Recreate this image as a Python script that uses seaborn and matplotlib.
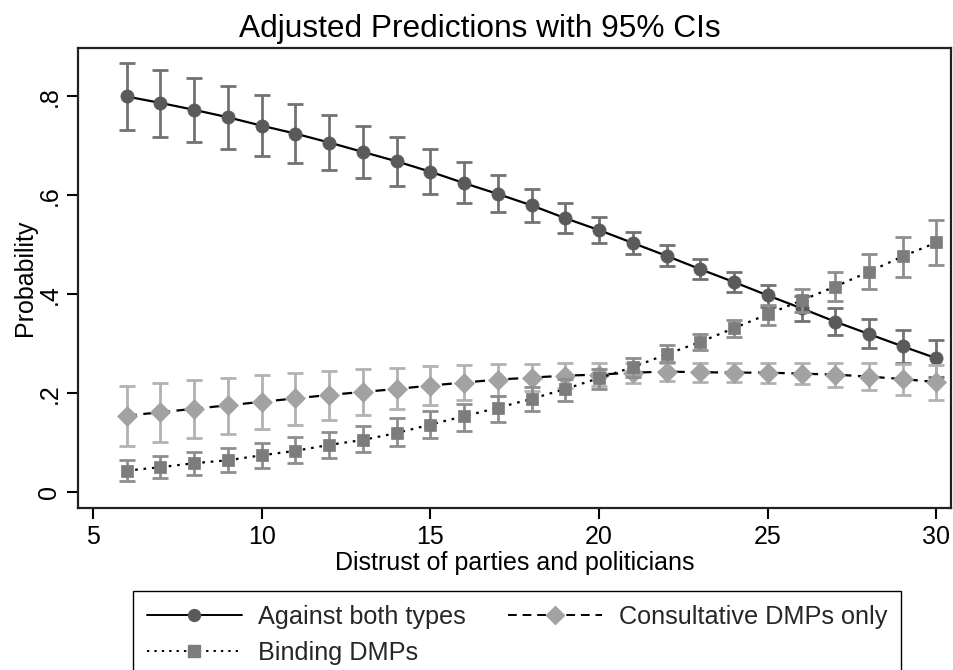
import matplotlib
matplotlib.use("Agg")
import matplotlib.pyplot as plt
from matplotlib.lines import Line2D
import seaborn as sns
import numpy as np

# ---- data ----
distrust = list(range(6, 31))

against = [0.800, 0.787, 0.773, 0.758, 0.741, 0.725, 0.707, 0.688, 0.669, 0.648, 0.625, 0.603, 0.580,
           0.554, 0.530, 0.504, 0.478, 0.451, 0.425, 0.398, 0.372, 0.345, 0.320, 0.295, 0.271]
against_lo = [0.733, 0.719, 0.708, 0.694, 0.680, 0.665, 0.651, 0.636, 0.620, 0.602, 0.585, 0.566, 0.546,
              0.525, 0.504, 0.482, 0.457, 0.431, 0.405, 0.375, 0.347, 0.319, 0.291, 0.261, 0.234]
against_hi = [0.867, 0.854, 0.838, 0.821, 0.803, 0.785, 0.763, 0.741, 0.718, 0.694, 0.667, 0.641, 0.613,
              0.585, 0.556, 0.527, 0.499, 0.471, 0.445, 0.420, 0.397, 0.372, 0.350, 0.329, 0.307]

consult = [0.155, 0.162, 0.169, 0.176, 0.183, 0.190, 0.197, 0.203, 0.209, 0.216, 0.222, 0.228, 0.232,
           0.236, 0.238, 0.242, 0.244, 0.243, 0.242, 0.242, 0.240, 0.238, 0.234, 0.229, 0.223]
consult_lo = [0.093, 0.101, 0.110, 0.119, 0.128, 0.137, 0.147, 0.157, 0.168, 0.177, 0.187, 0.195, 0.204,
              0.211, 0.215, 0.222, 0.225, 0.224, 0.224, 0.222, 0.220, 0.214, 0.206, 0.197, 0.187]
consult_hi = [0.216, 0.222, 0.228, 0.232, 0.237, 0.241, 0.246, 0.249, 0.251, 0.255, 0.257, 0.259, 0.260,
              0.261, 0.261, 0.262, 0.262, 0.262, 0.261, 0.261, 0.261, 0.261, 0.261, 0.260, 0.258]

binding = [0.044, 0.051, 0.059, 0.065, 0.075, 0.084, 0.096, 0.106, 0.120, 0.137, 0.154, 0.171, 0.189,
           0.209, 0.231, 0.253, 0.279, 0.304, 0.332, 0.360, 0.388, 0.416, 0.446, 0.477, 0.505]
binding_lo = [0.024, 0.029, 0.035, 0.042, 0.049, 0.059, 0.069, 0.081, 0.093, 0.110, 0.125, 0.143, 0.164,
              0.185, 0.209, 0.233, 0.263, 0.287, 0.314, 0.339, 0.364, 0.387, 0.411, 0.435, 0.460]
binding_hi = [0.065, 0.074, 0.081, 0.090, 0.100, 0.112, 0.123, 0.135, 0.150, 0.164, 0.179, 0.195, 0.212,
              0.229, 0.249, 0.271, 0.297, 0.321, 0.349, 0.379, 0.411, 0.445, 0.482, 0.516, 0.550]

series_labels = ["Against both types", "Consultative DMPs only", "Binding DMPs"]
xticks = [5, 10, 15, 20, 25, 30]
yticks = [0, 0.2, 0.4, 0.6, 0.8]
ytick_labels = ["0", ".2", ".4", ".6", ".8"]

title = "Adjusted Predictions with 95% CIs"
xlabel = "Distrust of parties and politicians"
ylabel = "Probability"

# ---- style ----
sns.set_style("ticks")
plt.rcParams['font.family'] = ['Liberation Sans', 'DejaVu Sans']

W, H = 954, 670
fig = plt.figure(figsize=(W / 100, H / 100), dpi=100)
ax = fig.add_axes([78 / W, 1 - 508 / H, (951 - 78) / W, (508 - 48) / H])

styles = [
    dict(y=against, lo=against_lo, hi=against_hi, marker='o', ms=9.5, mfc='#5a5a5a',
         ecol='#727272', ls='-', z=2),
    dict(y=consult, lo=consult_lo, hi=consult_hi, marker='D', ms=10.0, mfc='#a2a2a2',
         ecol='#b2b2b2', ls=(0, (4.5, 3)), z=3),
    dict(y=binding, lo=binding_lo, hi=binding_hi, marker='s', ms=9.0, mfc='#7c7c7c',
         ecol='#8e8e8e', ls=(0, (1.2, 2.6)), z=4),
]

handles = []
for lab, st in zip(series_labels, styles):
    y = np.array(st['y'])
    lo = np.array(st['lo'])
    hi = np.array(st['hi'])
    ax.errorbar(distrust, y, yerr=[y - lo, hi - y], fmt='none', ecolor=st['ecol'],
                elinewidth=2.0, capsize=6, capthick=2.0, zorder=st['z'])
    sns.lineplot(x=distrust, y=st['y'], ax=ax, color='black', linewidth=1.6,
                 linestyle=st['ls'], marker=st['marker'], markersize=st['ms'],
                 markerfacecolor=st['mfc'], markeredgecolor=st['mfc'],
                 markeredgewidth=0.5, zorder=st['z'] + 0.5)
    handles.append(Line2D([], [], color='black', linewidth=1.4, linestyle=st['ls'],
                          marker=st['marker'], markersize=st['ms'] * 0.9,
                          markerfacecolor=st['mfc'], markeredgecolor=st['mfc'],
                          label=lab))

ax.set_xlim(4.556, 30.43)
ax.set_ylim(-0.0315, 0.898)
ax.set_xticks(xticks)
ax.set_xticklabels([str(t) for t in xticks])
ax.set_yticks(yticks)
ax.set_yticklabels(ytick_labels, rotation=90, va='center')
ax.tick_params(axis='both', direction='out', length=8, width=1.5, color='black',
               labelsize=18, labelcolor='black', pad=4)
for side in ['left', 'bottom', 'top', 'right']:
    ax.spines[side].set_visible(True)
    ax.spines[side].set_linewidth(1.6)
    ax.spines[side].set_color('#222222')
ax.set_xlabel(xlabel, fontsize=18, labelpad=2, color='black')
ax.set_ylabel(ylabel, fontsize=18, labelpad=0, color='black')

fig.text(479.5 / W, 1 - 37 / H, title, fontsize=22.8, ha='center', va='baseline', color='black')

# legend: row 1 = Against, Consultative; row 2 = Binding
leg_handles = [handles[0], handles[2], handles[1]]
leg = fig.legend(handles=leg_handles, labels=[h.get_label() for h in leg_handles],
                 loc='upper left', bbox_to_anchor=(133 / W, 1 - 591 / H),
                 ncol=2, fontsize=18.2, frameon=True, fancybox=False,
                 edgecolor='black', framealpha=1, borderaxespad=0, borderpad=0.55,
                 handlelength=3.75, handletextpad=0.65, labelspacing=0.48, columnspacing=1.65)
leg.get_frame().set_linewidth(1.0)

fig.savefig("out.png", dpi=100)
